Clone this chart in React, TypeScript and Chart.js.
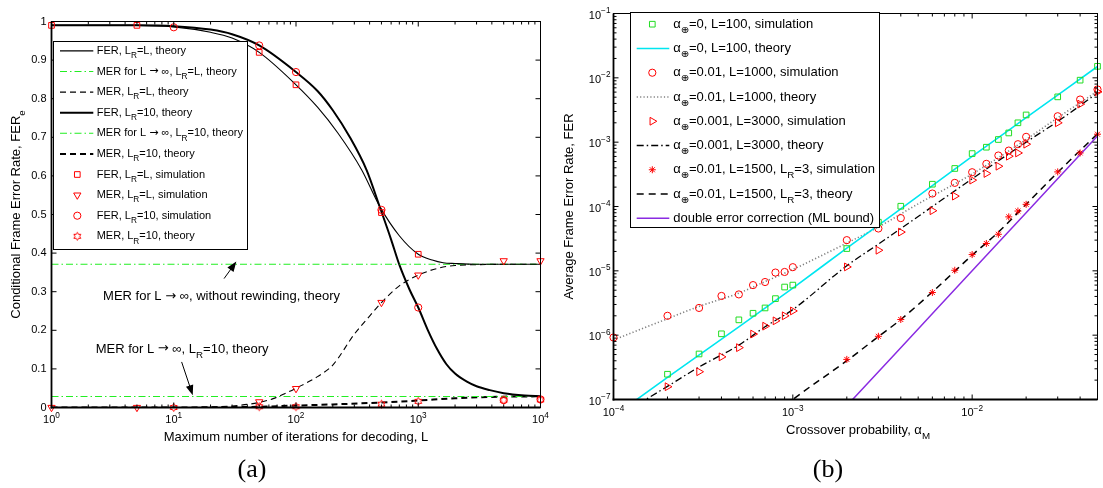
import React, { useEffect, useRef } from "react";
import { Chart, registerables } from "chart.js";
Chart.register(...registerables);

const FONT = '"Liberation Sans", Arial, "DejaVu Sans", sans-serif';
const SYMFONT = '"DejaVu Sans", sans-serif';
const SERIF = '"Liberation Serif", "DejaVu Serif", serif';
const RED = "#ff0000";
const GREEN_LINE = "#22ee22";
const GREEN_MK = "#22dd22";
const CYAN = "#00e6f0";
const PURPLE = "#8a2be2";
const GRAY = "#808080";

// ---------------- (a) data ----------------
const aL_ferLRL = [1, 5, 10, 20, 30, 50, 100, 150, 220, 344, 484, 700, 1000, 1300, 1600, 2000, 3000, 5000, 10000];
const aV_ferLRL = [0.99, 0.99, 0.986, 0.972, 0.957, 0.92, 0.836, 0.778, 0.711, 0.616, 0.521, 0.445, 0.397, 0.382, 0.375, 0.373, 0.371, 0.371, 0.371];

const aL_ferLR10 = [1, 5, 10, 20, 30, 50, 100, 150, 200, 276, 378, 484, 600, 700, 850, 1000, 1200, 1433, 1700, 2000, 2500, 3000, 3845, 5000, 7420, 10000];
const aV_ferLR10 = [0.99, 0.99, 0.988, 0.979, 0.967, 0.938, 0.869, 0.82, 0.77, 0.70, 0.615, 0.52, 0.435, 0.37, 0.305, 0.259, 0.2, 0.15, 0.112, 0.088, 0.067, 0.055, 0.045, 0.037, 0.031, 0.029];

const aL_merLRL = [1, 10, 20, 30, 40, 50, 65, 80, 100, 150, 200, 300, 400, 500, 700, 1000, 1500, 2000, 3000, 5000, 10000];
const aV_merLRL = [0, 0, 0.001, 0.004, 0.008, 0.013, 0.023, 0.035, 0.05, 0.08, 0.11, 0.19, 0.237, 0.272, 0.315, 0.343, 0.362, 0.368, 0.37, 0.371, 0.371];

const aL_merLR10 = [1, 10, 20, 30, 50, 100, 200, 500, 1000, 2000, 5000, 10000];
const aV_merLR10 = [0, 0, 0.0005, 0.001, 0.002, 0.005, 0.008, 0.013, 0.018, 0.024, 0.028, 0.029];

const aL_inf = [1, 10000];
const aV_infLRL = [0.371, 0.371];
const aV_infLR10 = [0.0285, 0.0285];

const aL_simFerLRL = [1, 5, 50, 100, 500, 1000];
const aV_simFerLRL = [0.99, 0.99, 0.92, 0.836, 0.505, 0.397];
const aL_simMerLRL = [1, 5, 50, 100, 500, 1000, 5000, 10000];
const aV_simMerLRL = [0, 0, 0.0146, 0.049, 0.272, 0.343, 0.38, 0.38];
const aL_simFerLR10 = [10, 50, 100, 500, 1000, 5000, 10000];
const aV_simFerLR10 = [0.985, 0.938, 0.869, 0.512, 0.259, 0.019, 0.021];
const aL_thMerLR10 = [10, 50, 100, 500, 1000, 5000, 10000];
const aV_thMerLR10 = [0, 0.002, 0.002, 0.0086, 0.016, 0.019, 0.02];

const aXTicks = [1, 10, 100, 1000, 10000];
const aXTickLabels = ["10^{0}", "10^{1}", "10^{2}", "10^{3}", "10^{4}"];
const aYTicks = [0, 0.1, 0.2, 0.3, 0.4, 0.5, 0.6, 0.7, 0.8, 0.9, 1];
const aYTickLabels = ["0", "0.1", "0.2", "0.3", "0.4", "0.5", "0.6", "0.7", "0.8", "0.9", "1"];

// ---------------- (b) data ----------------
const bX_sim = [1e-4, 2e-4, 3e-4, 4e-4, 5e-4, 6e-4, 7e-4, 8e-4, 9e-4, 1e-3, 2e-3, 3e-3, 4e-3, 6e-3, 8e-3, 1e-2, 1.2e-2, 1.4e-2, 1.6e-2, 1.8e-2, 2e-2, 3e-2, 4e-2, 5e-2];
const bX_simNo1 = bX_sim.slice(1);
const bY_sq = [2.47e-7, 5.1e-7, 1.05e-6, 1.73e-6, 2.19e-6, 2.65e-6, 3.7e-6, 5.6e-6, 6.0e-6, 2.22e-5, 5.7e-5, 1.01e-4, 2.22e-4, 3.9e-4, 6.65e-4, 8.35e-4, 1.1e-3, 1.39e-3, 2.0e-3, 2.65e-3, 5.06e-3, 9.2e-3, 1.51e-2];
const bY_circ = [9.2e-7, 2.0e-6, 2.65e-6, 4.07e-6, 4.3e-6, 6.0e-6, 6.7e-6, 9.4e-6, 9.6e-6, 1.14e-5, 3.0e-5, 4.55e-5, 6.6e-5, 1.59e-4, 2.33e-4, 3.41e-4, 4.6e-4, 6.2e-4, 7.4e-4, 9.3e-4, 1.21e-3, 2.53e-3, 4.6e-3, 6.6e-3];
const bY_tri = [1.58e-7, 2.7e-7, 4.6e-7, 6.4e-7, 1.04e-6, 1.38e-6, 1.67e-6, 2.0e-6, 2.38e-6, 1.15e-5, 2.09e-5, 4.0e-5, 8.6e-5, 1.45e-4, 2.57e-4, 3.26e-4, 4.23e-4, 6.05e-4, 6.8e-4, 9.3e-4, 2.0e-3, 3.9e-3, 6.05e-3];
const bX_star = [2e-3, 3e-3, 4e-3, 6e-3, 8e-3, 1e-2, 1.2e-2, 1.4e-2, 1.6e-2, 1.8e-2, 2e-2, 3e-2, 4e-2, 5e-2];
const bY_star = [4.2e-7, 9.6e-7, 1.75e-6, 4.6e-6, 1.02e-5, 1.79e-5, 2.66e-5, 3.7e-5, 6.9e-5, 8.5e-5, 1.08e-4, 3.45e-4, 6.8e-4, 1.33e-3];

const bX_cyan = [1e-4, 2e-4, 5e-4, 1e-3, 2e-3, 5e-3, 1e-2, 2e-2, 5e-2];
const bY_cyan = [5.5e-8, 2.2e-7, 1.35e-6, 5.4e-6, 2.25e-5, 1.45e-4, 6.0e-4, 2.4e-3, 1.5e-2];
const bX_dot = [1e-4, 2e-4, 3e-4, 5e-4, 7e-4, 1e-3, 2e-3, 3e-3, 5e-3, 1e-2, 2e-2, 3e-2, 5e-2];
const bY_dot = [8.4e-7, 1.8e-6, 2.8e-6, 4.5e-6, 6.8e-6, 1.05e-5, 2.7e-5, 4.8e-5, 1.1e-4, 3.2e-4, 1.1e-3, 2.4e-3, 6.2e-3];
const bX_dashdot = [1e-4, 2e-4, 3e-4, 5e-4, 7e-4, 1e-3, 2e-3, 3e-3, 5e-3, 1e-2, 2e-2, 3e-2, 5e-2];
const bY_dashdot = [5e-8, 1.6e-7, 3.2e-7, 7e-7, 1.35e-6, 2.5e-6, 1.2e-5, 2.6e-5, 7e-5, 2.7e-4, 1.0e-3, 2.1e-3, 5.8e-3];
const bX_dash = [8e-4, 1e-3, 2e-3, 3e-3, 4e-3, 6e-3, 1e-2, 1.4e-2, 2e-2, 3e-2, 5e-2];
const bY_dash = [6e-8, 1.0e-7, 4.0e-7, 9.5e-7, 1.75e-6, 4.7e-6, 1.75e-5, 4.0e-5, 1.08e-4, 3.4e-4, 1.35e-3];
const bX_ml = [2e-3, 5e-3, 1e-2, 2e-2, 5e-2];
const bY_ml = [8e-8, 1.25e-6, 1.0e-5, 8e-5, 1.25e-3];

const bXTicks = [1e-4, 1e-3, 1e-2];
const bXTickLabels = ["10^{−4}", "10^{−3}", "10^{−2}"];
const bYTicks = [1e-7, 1e-6, 1e-5, 1e-4, 1e-3, 1e-2, 1e-1];
const bYTickLabels = ["10^{−7}", "10^{−6}", "10^{−5}", "10^{−4}", "10^{−3}", "10^{−2}", "10^{−1}"];

// ---------------- helpers ----------------
type Ln = { color: string; width: number; dash: number[] };
type Mk = { style: string; r: number; rot?: number; color: string };
type Series = { label: string; x: number[]; y: number[]; line?: Ln; marker?: Mk };
type Part = { t: string; sub?: boolean; sup?: boolean; sym?: boolean };

const SYMBOLS = "→";

function parseRich(s: string): Part[] {
  const raw: Part[] = [];
  let i = 0;
  let buf = "";
  while (i < s.length) {
    const c = s[i];
    if ((c === "_" || c === "^") && s[i + 1] === "{") {
      if (buf) { raw.push({ t: buf }); buf = ""; }
      const end = s.indexOf("}", i + 2);
      raw.push({ t: s.slice(i + 2, end), sub: c === "_", sup: c === "^" });
      i = end + 1;
    } else { buf += c; i++; }
  }
  if (buf) raw.push({ t: buf });
  const parts: Part[] = [];
  raw.forEach((p) => {
    let b = "";
    for (const ch of p.t) {
      if (SYMBOLS.includes(ch)) {
        if (b) { parts.push({ ...p, t: b }); b = ""; }
        parts.push({ ...p, t: ch, sym: true });
      } else b += ch;
    }
    if (b) parts.push({ ...p, t: b });
  });
  return parts;
}

function drawRich(ctx: CanvasRenderingContext2D, s: string, x: number, y: number, size: number, align: "left" | "center" | "right", family = FONT) {
  const parts = parseRich(s);
  const small = size * 0.75;
  const fontOf = (p: Part) => `${p.sub || p.sup ? small : size}px ${p.sym ? SYMFONT : family}`;
  let w = 0;
  for (const p of parts) {
    ctx.font = fontOf(p);
    w += ctx.measureText(p.t).width;
  }
  let cx = align === "left" ? x : align === "center" ? x - w / 2 : x - w;
  ctx.textBaseline = "middle";
  ctx.textAlign = "left";
  for (const p of parts) {
    ctx.font = fontOf(p);
    const dy = p.sub ? size * 0.45 : p.sup ? -size * 0.42 : 0;
    ctx.fillText(p.t, cx, y + dy);
    cx += ctx.measureText(p.t).width;
  }
}

function logMinors(min: number, max: number) {
  const out: number[] = [];
  for (let e = Math.floor(Math.log10(min)); e <= Math.ceil(Math.log10(max)); e++) {
    for (let m = 2; m <= 9; m++) {
      const v = m * Math.pow(10, e);
      if (v > min * 1.0001 && v < max * 0.9999) out.push(v);
    }
  }
  return out;
}

function makeHexagram(color: string, R: number) {
  const c = document.createElement("canvas");
  const s = Math.ceil(R * 2 + 3);
  c.width = s; c.height = s;
  const g = c.getContext("2d")!;
  g.strokeStyle = color; g.lineWidth = 1;
  const cx = s / 2, cy = s / 2, r2 = R / Math.sqrt(3);
  g.beginPath();
  for (let k = 0; k < 12; k++) {
    const ang = -Math.PI / 2 + (k * Math.PI) / 6;
    const rr = k % 2 === 0 ? R : r2;
    const px = cx + rr * Math.cos(ang), py = cy + rr * Math.sin(ang);
    if (k === 0) g.moveTo(px, py); else g.lineTo(px, py);
  }
  g.closePath(); g.stroke();
  return c;
}

function drawMarker(ctx: CanvasRenderingContext2D, m: Mk, x: number, y: number, hex?: HTMLCanvasElement) {
  ctx.save();
  ctx.strokeStyle = m.color; ctx.lineWidth = 1; ctx.setLineDash([]);
  const r = m.r;
  const rad = ((m.rot || 0) * Math.PI) / 180;
  ctx.beginPath();
  if (m.style === "rect") { const s = Math.SQRT1_2 * r; ctx.rect(x - s, y - s, 2 * s, 2 * s); }
  else if (m.style === "circle") { ctx.arc(x, y, r, 0, Math.PI * 2); }
  else if (m.style === "triangle") {
    let a = rad;
    ctx.moveTo(x + Math.sin(a) * r, y - Math.cos(a) * r); a += (2 * Math.PI) / 3;
    ctx.lineTo(x + Math.sin(a) * r, y - Math.cos(a) * r); a += (2 * Math.PI) / 3;
    ctx.lineTo(x + Math.sin(a) * r, y - Math.cos(a) * r); ctx.closePath();
  } else if (m.style === "star") {
    for (let k = 0; k < 4; k++) {
      const a = rad + (k * Math.PI) / 4;
      ctx.moveTo(x - Math.cos(a) * r, y - Math.sin(a) * r);
      ctx.lineTo(x + Math.cos(a) * r, y + Math.sin(a) * r);
    }
  } else if (m.style === "hexagram" && hex) {
    ctx.drawImage(hex, x - hex.width / 2, y - hex.height / 2);
  }
  ctx.stroke();
  ctx.restore();
}

const toPts = (xs: number[], ys: number[]) => xs.map((x, i) => ({ x, y: ys[i] }));

function makeDatasets(series: Series[], hex?: HTMLCanvasElement) {
  const ds: any[] = [];
  series.forEach((s) => {
    if (s.line) {
      ds.push({
        label: s.label, data: toPts(s.x, s.y), borderColor: s.line.color, borderWidth: s.line.width,
        borderDash: s.line.dash, borderCapStyle: "butt", pointRadius: 0, pointHoverRadius: 0, fill: false,
        cubicInterpolationMode: "monotone", order: 2,
      });
    }
    if (s.marker) {
      const m = s.marker;
      ds.push({
        label: s.label, data: toPts(s.x, s.y), showLine: false,
        pointStyle: m.style === "hexagram" ? hex : m.style, pointRadius: m.r, pointHoverRadius: m.r,
        pointRotation: m.rot || 0, pointBorderColor: m.color, pointBackgroundColor: "rgba(0,0,0,0)",
        pointBorderWidth: 1, borderColor: m.color, backgroundColor: "rgba(0,0,0,0)", clip: false, order: 1,
      });
    }
  });
  return ds;
}

type LegendCfg = { x0: number; y0: number; x1: number; y1: number; row0: number; step: number; lx0: number; lx1: number; mx: number; tx: number; size: number };
type Annot = { text: string; tx: number; ty: number; from: [number, number]; to: [number, number] };
type FrameCfg = {
  xTicks: number[]; xLabels: string[]; xMinor: number[];
  yTicks: number[]; yLabels: string[]; yMinor: number[];
  xLabelY: number; yLabelGap: number;
  xTitle: string; xTitleX: number; xTitleY: number;
  yTitle: string; yTitleX: number; yTitleY: number;
  caption: string; captionX: number; captionY: number;
  legend: LegendCfg; series: Series[]; annots: Annot[];
};

function framePlugin(cfg: FrameCfg, id: string, hex?: HTMLCanvasElement) {
  return {
    id,
    afterDatasetsDraw(chart: any) {
      const ctx = chart.ctx as CanvasRenderingContext2D;
      const { left, right, top, bottom } = chart.chartArea;
      const xs = chart.scales.x, ys = chart.scales.y;
      ctx.save();
      ctx.strokeStyle = "#000";
      ctx.setLineDash([]);
      ctx.lineWidth = 1;
      const seg = (x1: number, y1: number, x2: number, y2: number) => { ctx.beginPath(); ctx.moveTo(x1, y1); ctx.lineTo(x2, y2); ctx.stroke(); };
      cfg.xTicks.forEach((v) => { const p = xs.getPixelForValue(v); seg(p, bottom, p, bottom - 5); seg(p, top, p, top + 5); });
      cfg.xMinor.forEach((v) => { const p = xs.getPixelForValue(v); seg(p, bottom, p, bottom - 3); seg(p, top, p, top + 3); });
      cfg.yTicks.forEach((v) => { const p = ys.getPixelForValue(v); seg(left, p, left + 5, p); seg(right, p, right - 5, p); });
      cfg.yMinor.forEach((v) => { const p = ys.getPixelForValue(v); seg(left, p, left + 3, p); seg(right, p, right - 3, p); });
      ctx.strokeRect(left, top, right - left, bottom - top);
      ctx.lineWidth = 1.8;
      seg(left, top, left, bottom + 0.9);
      seg(left - 0.9, bottom, right, bottom);
      ctx.fillStyle = "#000";
      cfg.xTicks.forEach((v, i) => drawRich(ctx, cfg.xLabels[i], xs.getPixelForValue(v), cfg.xLabelY, 11, "center"));
      cfg.yTicks.forEach((v, i) => drawRich(ctx, cfg.yLabels[i], left - cfg.yLabelGap, ys.getPixelForValue(v) + (cfg.yLabels[i].includes("^") ? 2 : 0), 11, "right"));
      // titles
      drawRich(ctx, cfg.xTitle, cfg.xTitleX, cfg.xTitleY, 13, "center");
      ctx.save();
      ctx.translate(cfg.yTitleX, cfg.yTitleY);
      ctx.rotate(-Math.PI / 2);
      drawRich(ctx, cfg.yTitle, 0, 0, 13, "center");
      ctx.restore();
      ctx.fillStyle = "#000";
      drawRich(ctx, cfg.caption, cfg.captionX, cfg.captionY, 26, "center", SERIF);
      // annotations
      cfg.annots.forEach((a) => {
        drawRich(ctx, a.text, xs.getPixelForValue(a.tx), ys.getPixelForValue(a.ty), 13, "center");
        const x1 = xs.getPixelForValue(a.from[0]), y1 = ys.getPixelForValue(a.from[1]);
        const x2 = xs.getPixelForValue(a.to[0]), y2 = ys.getPixelForValue(a.to[1]);
        const ang = Math.atan2(y2 - y1, x2 - x1);
        const hl = 10, hw = 3.8;
        ctx.lineWidth = 1;
        seg(x1, y1, x2 - Math.cos(ang) * hl * 0.8, y2 - Math.sin(ang) * hl * 0.8);
        ctx.beginPath();
        ctx.moveTo(x2, y2);
        ctx.lineTo(x2 - Math.cos(ang) * hl - Math.sin(ang) * hw, y2 - Math.sin(ang) * hl + Math.cos(ang) * hw);
        ctx.lineTo(x2 - Math.cos(ang) * hl + Math.sin(ang) * hw, y2 - Math.sin(ang) * hl - Math.cos(ang) * hw);
        ctx.closePath();
        ctx.fill();
      });
      // legend
      const L = cfg.legend;
      ctx.fillStyle = "#fff";
      ctx.fillRect(L.x0, L.y0, L.x1 - L.x0, L.y1 - L.y0);
      ctx.strokeStyle = "#000"; ctx.lineWidth = 1;
      ctx.strokeRect(L.x0, L.y0, L.x1 - L.x0, L.y1 - L.y0);
      cfg.series.forEach((s, i) => {
        const y = L.row0 + i * L.step;
        if (s.line) {
          ctx.save();
          ctx.strokeStyle = s.line.color; ctx.lineWidth = s.line.width; ctx.setLineDash(s.line.dash); ctx.lineCap = "butt";
          seg(L.lx0, y, L.lx1, y);
          ctx.restore();
        }
        if (s.marker) drawMarker(ctx, s.marker, L.mx, y, hex);
        ctx.fillStyle = "#000";
        drawRich(ctx, s.label, L.tx, y, L.size, "left");
      });
      ctx.restore();
    },
  };
}

// ---------------- chart (a) ----------------
const DASH = [6, 4];
const DASHDOT = [7, 3, 1.5, 3];
const seriesA: Series[] = [
  { label: "FER, L_{R}=L, theory", x: aL_ferLRL, y: aV_ferLRL, line: { color: "#000", width: 1.1, dash: [] } },
  { label: "MER for L → ∞, L_{R}=L, theory", x: aL_inf, y: aV_infLRL, line: { color: GREEN_LINE, width: 1.1, dash: DASHDOT } },
  { label: "MER, L_{R}=L, theory", x: aL_merLRL, y: aV_merLRL, line: { color: "#000", width: 1.1, dash: DASH } },
  { label: "FER, L_{R}=10, theory", x: aL_ferLR10, y: aV_ferLR10, line: { color: "#000", width: 2, dash: [] } },
  { label: "MER for L → ∞, L_{R}=10, theory", x: aL_inf, y: aV_infLR10, line: { color: GREEN_LINE, width: 1.1, dash: DASHDOT } },
  { label: "MER, L_{R}=10, theory", x: aL_merLR10, y: aV_merLR10, line: { color: "#000", width: 2, dash: DASH } },
  { label: "FER, L_{R}=L, simulation", x: aL_simFerLRL, y: aV_simFerLRL, marker: { style: "rect", r: 4, color: RED } },
  { label: "MER, L_{R}=L, simulation", x: aL_simMerLRL, y: aV_simMerLRL, marker: { style: "triangle", r: 4.2, rot: 180, color: RED } },
  { label: "FER, L_{R}=10, simulation", x: aL_simFerLR10, y: aV_simFerLR10, marker: { style: "circle", r: 3.6, color: RED } },
  { label: "MER, L_{R}=10, theory", x: aL_thMerLR10, y: aV_thMerLR10, marker: { style: "hexagram", r: 4, color: RED } },
];

const frameA: FrameCfg = {
  xTicks: aXTicks, xLabels: aXTickLabels, xMinor: logMinors(1, 10000),
  yTicks: aYTicks, yLabels: aYTickLabels, yMinor: [],
  xLabelY: 420, yLabelGap: 5,
  xTitle: "Maximum number of iterations for decoding, L", xTitleX: 296, xTitleY: 437,
  yTitle: "Conditional Frame Error Rate, FER_{e}", yTitleX: 16, yTitleY: 214.5,
  caption: "(a)", captionX: 252, captionY: 470,
  legend: { x0: 53.5, y0: 41.5, x1: 247.5, y1: 249.5, row0: 50.9, step: 20.6, lx0: 60, lx1: 93.3, mx: 77.3, tx: 96.7, size: 11 },
  series: seriesA,
  annots: [
    { text: "MER for L → ∞, without rewinding, theory", tx: 24.6, ty: 0.287, from: [25.8, 0.334], to: [32.5, 0.378] },
    { text: "MER for L → ∞, L_{R}=10, theory", tx: 11.7, ty: 0.1516, from: [11.6, 0.118], to: [14.3, 0.032] },
  ],
};

// ---------------- chart (b) ----------------
const seriesB: Series[] = [
  { label: "α_{⊕}=0, L=100, simulation", x: bX_simNo1, y: bY_sq, marker: { style: "rect", r: 4, color: GREEN_MK } },
  { label: "α_{⊕}=0, L=100, theory", x: bX_cyan, y: bY_cyan, line: { color: CYAN, width: 1.6, dash: [] } },
  { label: "α_{⊕}=0.01, L=1000, simulation", x: bX_sim, y: bY_circ, marker: { style: "circle", r: 3.6, color: RED } },
  { label: "α_{⊕}=0.01, L=1000, theory", x: bX_dot, y: bY_dot, line: { color: GRAY, width: 1.6, dash: [1.2, 2.2] } },
  { label: "α_{⊕}=0.001, L=3000, simulation", x: bX_simNo1, y: bY_tri, marker: { style: "triangle", r: 4.5, rot: 90, color: RED } },
  { label: "α_{⊕}=0.001, L=3000, theory", x: bX_dashdot, y: bY_dashdot, line: { color: "#000", width: 1.3, dash: DASHDOT } },
  { label: "α_{⊕}=0.01, L=1500, L_{R}=3, simulation", x: bX_star, y: bY_star, marker: { style: "star", r: 3.5, color: RED } },
  { label: "α_{⊕}=0.01, L=1500, L_{R}=3, theory", x: bX_dash, y: bY_dash, line: { color: "#000", width: 1.5, dash: [7, 5] } },
  { label: "double error correction (ML bound)", x: bX_ml, y: bY_ml, line: { color: PURPLE, width: 1.5, dash: [] } },
];

const frameB: FrameCfg = {
  xTicks: bXTicks, xLabels: bXTickLabels, xMinor: logMinors(1e-4, 5e-2),
  yTicks: bYTicks, yLabels: bYTickLabels, yMinor: logMinors(1e-7, 1e-1),
  xLabelY: 413, yLabelGap: 3,
  xTitle: "Crossover probability, α_{M}", xTitleX: 306, xTitleY: 430,
  yTitle: "Average Frame Error Rate, FER", yTitleX: 17, yTitleY: 206.5,
  caption: "(b)", captionX: 276, captionY: 470,
  legend: { x0: 78.5, y0: 12.5, x1: 327.5, y1: 227.5, row0: 24.2, step: 24.26, lx0: 84.7, lx1: 117.3, mx: 100.3, tx: 121.3, size: 13 },
  series: seriesB,
  annots: [],
};

function buildConfig(series: Series[], frame: FrameCfg, id: string, xs: any, ys: any, padding: any, hex?: HTMLCanvasElement): any {
  return {
    type: "line",
    data: { datasets: makeDatasets(series, hex) },
    options: {
      responsive: false,
      animation: false,
      devicePixelRatio: 1,
      layout: { padding },
      scales: { x: { ...xs, display: false }, y: { ...ys, display: false } },
      plugins: { legend: { display: false }, tooltip: { enabled: false } },
      events: [],
    },
    plugins: [framePlugin(frame, id, hex)],
  };
}

export default function App() {
  const refA = useRef<HTMLCanvasElement>(null);
  const refB = useRef<HTMLCanvasElement>(null);
  useEffect(() => {
    const hex = makeHexagram(RED, 4);
    const chartA = new Chart(
      refA.current!,
      buildConfig(seriesA, frameA, "frameA", { type: "logarithmic", min: 1, max: 10000 }, { type: "linear", min: 0, max: 1 },
        { left: 51.5, right: 11.5, top: 21.5, bottom: 80.5 }, hex)
    );
    const chartB = new Chart(
      refB.current!,
      buildConfig(seriesB, frameB, "frameB", { type: "logarithmic", min: 1e-4, max: 5e-2 }, { type: "logarithmic", min: 1e-7, max: 1e-1 },
        { left: 61.5, right: 0.5, top: 13.5, bottom: 88.5 }, hex)
    );
    return () => { chartA.destroy(); chartB.destroy(); };
  }, []);
  return (
    <div style={{ position: "absolute", left: 0, top: 0, width: 1103, height: 488, background: "#fff", overflow: "hidden" }}>
      <canvas ref={refA} width={552} height={488} style={{ position: "absolute", left: 0, top: 0 }} />
      <canvas ref={refB} width={551} height={488} style={{ position: "absolute", left: 552, top: 0 }} />
    </div>
  );
}
